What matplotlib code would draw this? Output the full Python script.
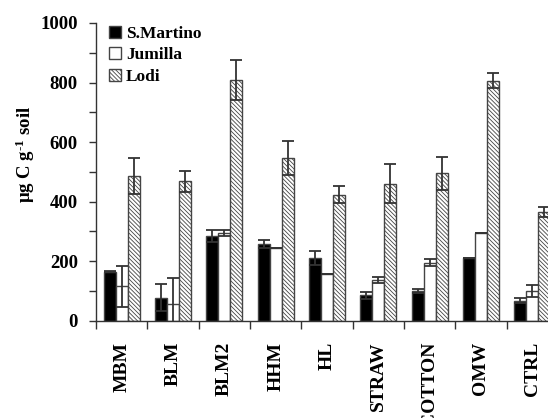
import matplotlib
matplotlib.use('Agg')
import matplotlib.pyplot as plt
import matplotlib.ticker as ticker
import numpy as np

categories = ['MBM', 'BLM', 'BLM2', 'HHM', 'HL', 'STRAW', 'COTTON', 'OMW', 'CTRL']

s_martino = [165, 77, 284, 258, 210, 86, 100, 210, 67]
s_martino_err = [3, 46, 21, 13, 23, 12, 8, 0, 8]

jumilla = [115, 55, 294, 243, 157, 138, 195, 294, 101]
jumilla_err = [70, 87, 10, 0, 0, 10, 12, 0, 20]

lodi = [487, 468, 808, 548, 423, 460, 495, 806, 366]
lodi_err = [61, 36, 68, 57, 29, 65, 55, 25, 17]

plt.rcParams['font.family'] = ['Liberation Serif', 'DejaVu Serif']
plt.rcParams['font.weight'] = 'bold'
plt.rcParams['mathtext.fontset'] = 'custom'
plt.rcParams['mathtext.rm'] = 'Liberation Serif:bold'
plt.rcParams['mathtext.default'] = 'rm'
plt.rcParams['hatch.color'] = 'black'
plt.rcParams['hatch.linewidth'] = 0.6

fig = plt.figure(figsize=(5.48, 4.18), dpi=100)
ax = fig.add_axes([96 / 548, 97.3 / 418, 462 / 548, 297.7 / 418])

x = np.arange(len(categories)) + 0.5
w = 0.235
edge = '#444444'
ecol = '#333333'

ax.bar(x - w, s_martino, w, color='black', edgecolor=edge, linewidth=1,
       label='S.Martino', zorder=2)
ax.bar(x, jumilla, w, color='white', edgecolor=edge, linewidth=1,
       label='Jumilla', zorder=2)
ax.bar(x + w, lodi, w, color='white', edgecolor=edge, linewidth=1,
       hatch='\\\\\\\\\\\\\\\\', label='Lodi', zorder=2)

for off, vals, errs in [(-w, s_martino, s_martino_err),
                        (0, jumilla, jumilla_err),
                        (w, lodi, lodi_err)]:
    ax.errorbar(x + off, vals, yerr=errs, fmt='none', ecolor=ecol,
                elinewidth=1.3, capsize=4.3, capthick=1.3, zorder=3)

ax.set_xlim(0, len(categories))
ax.set_ylim(0, 1000)

ax.spines['top'].set_visible(False)
ax.spines['right'].set_visible(False)
for s in ['left', 'bottom']:
    ax.spines[s].set_color('#333333')
    ax.spines[s].set_linewidth(1)

ax.yaxis.set_major_locator(ticker.MultipleLocator(200))
ax.yaxis.set_minor_locator(ticker.MultipleLocator(100))
ax.tick_params(axis='y', which='major', direction='out', length=5,
               width=1, color='#333333', labelsize=13.5, pad=8)
ax.tick_params(axis='y', which='minor', direction='out', length=5,
               width=1, color='#333333')

ax.set_xticks(np.arange(len(categories)))
ax.set_xticklabels([])
ax.set_xticks(x, minor=True)
ax.set_xticklabels(categories, minor=True, rotation=90, fontsize=14,
                   fontweight='bold', va='top', ha='center')
ax.tick_params(axis='x', which='major', direction='out', length=6,
               width=1, color='#333333')
ax.tick_params(axis='x', which='minor', length=0, pad=15)

ax.set_ylabel('μg C g$^{\\text{-1}}$ soil', fontsize=13.5, fontweight='bold')
ax.yaxis.set_label_coords(-0.128, 0.56)

leg = ax.legend(loc='upper left', bbox_to_anchor=(0.005, 1.025), frameon=False,
                fontsize=12.5, handlelength=0.7, handleheight=0.7,
                handletextpad=0.3, labelspacing=0.3, borderaxespad=0.2)
for t in leg.get_texts():
    t.set_fontweight('bold')

fig.savefig('out.png', dpi=100)
